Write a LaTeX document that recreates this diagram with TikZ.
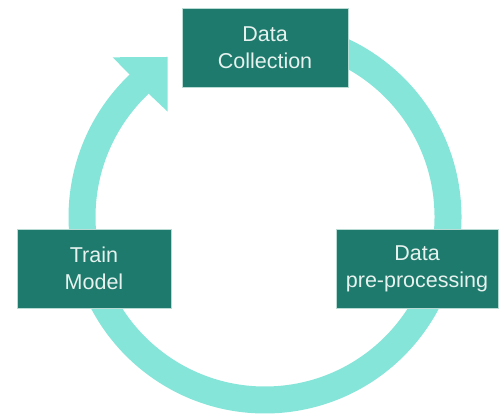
\documentclass[tikz,border=0pt]{standalone}
\usepackage{fontspec}
\setmainfont{Liberation Sans}
\definecolor{ringc}{HTML}{86E5D9}
\definecolor{boxc}{HTML}{1E7A6C}
\definecolor{boxedge}{HTML}{B8DCD3}
\definecolor{txtc}{HTML}{E6F2EF}
\begin{document}
\begin{tikzpicture}[x=1pt,y=1pt,
  ring/.style={draw=ringc,line width=27pt},
  stagebox/.style={rectangle,fill=boxc,draw=boxedge,line width=0.8pt,inner sep=0pt,
    minimum height=79pt,text=txtc,align=center,
    font=\fontsize{21.5}{27}\selectfont}]
\useasboundingbox (0,0) rectangle (500,419);
\coordinate (c) at (265,202);
\draw[ring] (c) ++(95:183) arc[start angle=95,end angle=-228,radius=183];
\fill[ringc] (112.7,361.7) -- (167.7,362) -- (167.7,307.3) -- (149,325) -- (129,345) -- cycle;
\node[stagebox,minimum width=166pt] (collect) at (265,371.5) {Data\\Collection};
\node[stagebox,minimum width=154pt] (train) at (94,150.5) {Train\\Model};
\node[stagebox,minimum width=162pt] (prep) at (417,150.5) {Data\\pre-processing};
\end{tikzpicture}
\end{document}
